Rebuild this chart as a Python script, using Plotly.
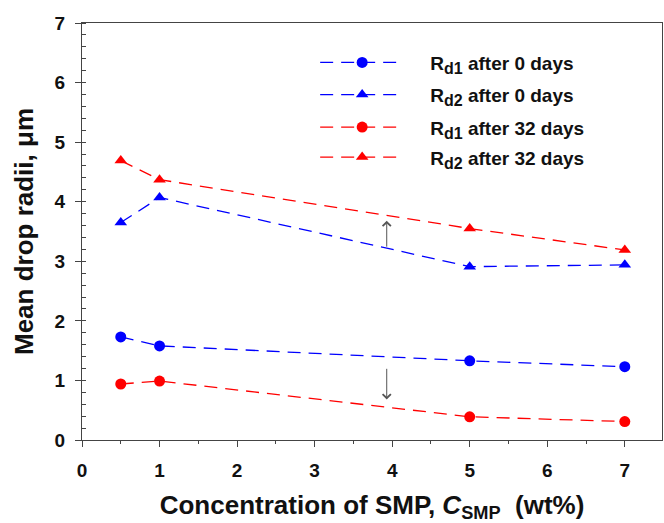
import plotly.graph_objects as go

conc = [0.5, 1, 5, 7]
rd1_0 = [1.73, 1.58, 1.33, 1.23]
rd2_0 = [3.65, 4.07, 2.91, 2.94]
rd1_32 = [0.94, 0.99, 0.39, 0.31]
rd2_32 = [4.69, 4.37, 3.55, 3.19]

SUB = "<sub><span style='font-size:16px'>{}</span></sub>"
names = ["R" + SUB.format("d1") + " after 0 days", "R" + SUB.format("d2") + " after 0 days",
         "R" + SUB.format("d1") + " after 32 days", "R" + SUB.format("d2") + " after 32 days"]
series = [rd1_0, rd2_0, rd1_32, rd2_32]
colors = ["#0000ff", "#0000ff", "#ff0000", "#ff0000"]
symbols = ["circle", "triangle-up", "circle", "triangle-up"]
legend_ids = ["legend", "legend2", "legend3", "legend4"]
legend_rows = [0.905, 0.828, 0.750, 0.678]

# arrows (x, tail y, head y)
arrow_x = 3.93
arrow_up = (3.22, 3.68)
arrow_down = (1.22, 0.68)

FONT = "Liberation Sans, Arial, sans-serif"
AX = "#444444"
TXT = "#111111"

fig = go.Figure()
for n, s, c, sym, lg in zip(names, series, colors, symbols, legend_ids):
    fig.add_trace(go.Scatter(
        x=conc, y=s, name="\u00a0\u00a0\u00a0\u00a0" + n, mode="lines+markers", legend=lg,
        line=dict(color=c, width=1.3, dash="13px,8px"),
        marker=dict(color=c, symbol=sym, size=11),
    ))

XR = [0, 7.48]
YR = [0, 7]
common = dict(showgrid=False, zeroline=False)
layout = dict(
    width=664, height=523,
    margin=dict(l=82, r=2, t=23, b=83),
    paper_bgcolor="white", plot_bgcolor="white",
    font=dict(family=FONT, color=TXT),
    showlegend=True,
    xaxis=dict(range=XR, tick0=0, dtick=1, showline=True, linecolor=AX, linewidth=1.3,
               mirror=True, ticks="outside", ticklen=6, tickwidth=1.3, tickcolor=AX,
               minor=dict(dtick=0.5, ticks="outside", ticklen=3, tickcolor=AX, tickwidth=1.2),
               tickfont=dict(size=19, family=FONT, weight="bold", color=TXT),
               ticklabelstandoff=7,
               title=dict(text="Concentration of SMP, <i>C</i><sub>SMP</sub>\u00a0 (wt%)",
                          font=dict(size=26, family=FONT, weight="bold", color=TXT),
                          standoff=15),
               **common),
    xaxis2=dict(range=XR, overlaying="x", anchor="y", side="bottom", tick0=0, dtick=1,
                ticks="inside", ticklen=6, tickwidth=1.3, tickcolor=AX,
                showticklabels=False, showline=False, **common),
    xaxis3=dict(range=XR, overlaying="x", anchor="y", side="top", tick0=0, dtick=1,
                ticks="inside", ticklen=6, tickwidth=1.3, tickcolor=AX,
                minor=dict(dtick=0.5, ticks="inside", ticklen=3, tickcolor=AX, tickwidth=1.2),
                showticklabels=False, showline=False, **common),
    xaxis4=dict(range=XR, overlaying="x", anchor="y", side="top", tick0=0, dtick=1,
                ticks="outside", ticklen=6, tickwidth=1.3, tickcolor=AX,
                showticklabels=False, showline=False, **common),
    yaxis=dict(range=YR, tick0=0, dtick=1, showline=True, linecolor=AX, linewidth=1.3,
               mirror=True, ticks="outside", ticklen=6, tickwidth=1.3, tickcolor=AX,
               minor=dict(dtick=0.2, ticks="inside", ticklen=4, tickcolor=AX, tickwidth=1.2),
               tickfont=dict(size=19, family=FONT, weight="bold", color=TXT),
               ticklabelstandoff=6,
               title=dict(text="Mean drop radii, \u03bcm",
                          font=dict(size=26, family=FONT, weight="bold", color=TXT),
                          standoff=13),
               **common),
    yaxis2=dict(range=YR, overlaying="y", anchor="x", side="left", tick0=0, dtick=1,
                ticks="inside", ticklen=6, tickwidth=1.3, tickcolor=AX,
                showticklabels=False, showline=False, **common),
    yaxis3=dict(range=YR, overlaying="y", anchor="x", side="right", tick0=0, dtick=1,
                ticks="inside", ticklen=6, tickwidth=1.3, tickcolor=AX,
                minor=dict(dtick=0.2, ticks="inside", ticklen=4, tickcolor=AX, tickwidth=1.2),
                showticklabels=False, showline=False, **common),
)
for lg, yr in zip(legend_ids, legend_rows):
    layout[lg] = dict(x=0.402, y=yr, xanchor="left", yanchor="middle",
                      font=dict(size=19, family=FONT, weight="bold", color=TXT),
                      itemwidth=84, bgcolor="rgba(0,0,0,0)")
fig.update_layout(**layout)

for (t, h) in (arrow_up, arrow_down):
    fig.add_annotation(x=arrow_x, y=h, ax=arrow_x, ay=t, xref="x", yref="y",
                       axref="x", ayref="y", showarrow=True, text="",
                       arrowhead=4, arrowsize=1.6, arrowwidth=1, arrowcolor="#555555")

fig.write_html("out.html")
